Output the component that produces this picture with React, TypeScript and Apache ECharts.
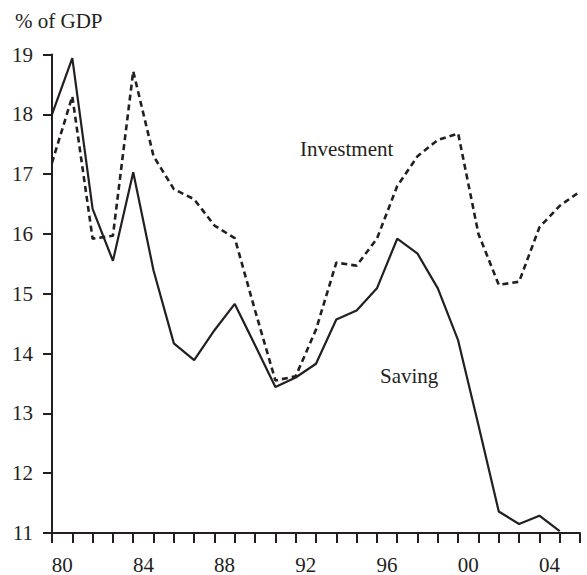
import React, { useEffect, useRef } from "react";
import * as echarts from "echarts";

const years = [1980, 1981, 1982, 1983, 1984, 1985, 1986, 1987, 1988, 1989, 1990, 1991, 1992, 1993, 1994, 1995, 1996, 1997, 1998, 1999, 2000, 2001, 2002, 2003, 2004, 2005, 2006];
const saving = [18.0, 18.94, 16.42, 15.55, 17.03, 15.39, 14.17, 13.89, 14.39, 14.83, 14.14, 13.44, 13.6, 13.83, 14.57, 14.72, 15.09, 15.92, 15.67, 15.09, 14.22, 12.8, 11.36, 11.15, 11.29, 11.03];
const investment = [17.19, 18.3, 15.92, 15.97, 18.72, 17.3, 16.75, 16.58, 16.14, 15.93, 14.72, 13.55, 13.62, 14.4, 15.52, 15.47, 15.92, 16.8, 17.3, 17.57, 17.68, 16.0, 15.15, 15.2, 16.11, 16.47, 16.71];
const labelYears = [1980, 1984, 1988, 1992, 1996, 2000, 2004];
const tickLabels = ["80", "84", "88", "92", "96", "00", "04"];
const yTicks = [11, 12, 13, 14, 15, 16, 17, 18, 19];

const FONT = "Liberation Serif";
const INK = "#231f20";
const FS = 21;

export default function App() {
  const ref = useRef<HTMLDivElement>(null);
  useEffect(() => {
    document.body.style.margin = "0";
    if (!ref.current) return;
    const chart = echarts.init(ref.current, null, { renderer: "svg" });
    chart.setOption({
      animation: false,
      textStyle: { fontFamily: FONT },
      grid: { left: 52, right: 7, top: 54.5, bottom: 41 },
      xAxis: {
        type: "value",
        min: 1980,
        max: 2006,
        splitLine: { show: false },
        axisLine: { show: true, lineStyle: { color: INK, width: 2 } },
        axisTick: {
          show: true,
          length: 10,
          lineStyle: { color: INK, width: 2 },
          customValues: years,
        },
        axisLabel: {
          customValues: labelYears.map((y) => y + 0.5),
          formatter: (v: number) => {
            const i = labelYears.indexOf(Math.round(v - 0.5));
            return i >= 0 ? tickLabels[i] : "";
          },
          color: INK,
          fontFamily: FONT,
          fontSize: FS,
          margin: 21,
        },
      },
      yAxis: {
        type: "value",
        min: 11,
        max: 19,
        interval: 1,
        splitLine: { show: false },
        axisLine: { show: true, lineStyle: { color: INK, width: 2 } },
        axisTick: { show: true, length: 9, lineStyle: { color: INK, width: 2 } },
        axisLabel: {
          color: INK,
          fontFamily: FONT,
          fontSize: FS,
          margin: 19,
          formatter: (v: number) => (yTicks.includes(v) ? String(v) : ""),
        },
      },
      series: [
        {
          name: "Saving",
          type: "line",
          data: saving.map((v, i) => [years[i], v]),
          showSymbol: false,
          lineStyle: { color: INK, width: 2.2 },
          z: 3,
        },
        {
          name: "Investment",
          type: "line",
          data: investment.map((v, i) => [years[i], v]),
          showSymbol: false,
          lineStyle: { color: INK, width: 2.6, type: [6, 4] },
          z: 2,
        },
      ],
      graphic: [
        {
          type: "text",
          x: 15,
          y: 21,
          style: { text: "% of GDP", fontFamily: FONT, fontSize: FS, fill: INK, verticalAlign: "middle" },
        },
        {
          type: "text",
          x: 300,
          y: 149,
          style: { text: "Investment", fontFamily: FONT, fontSize: FS, fill: INK, verticalAlign: "middle" },
        },
        {
          type: "text",
          x: 380,
          y: 376,
          style: { text: "Saving", fontFamily: FONT, fontSize: FS, fill: INK, verticalAlign: "middle" },
        },
      ],
    });
    return () => chart.dispose();
  }, []);
  return <div ref={ref} style={{ width: 587, height: 575 }} />;
}
